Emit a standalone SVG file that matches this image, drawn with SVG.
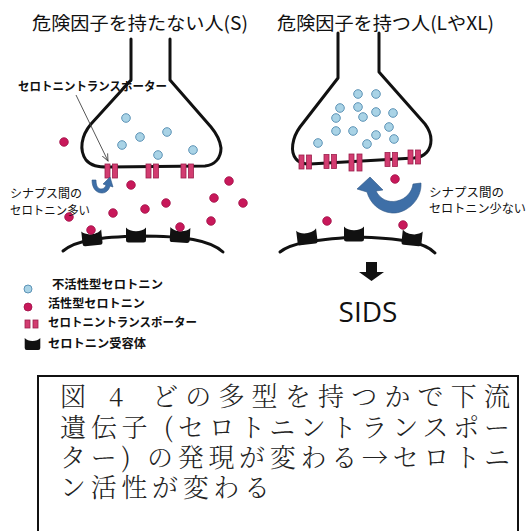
<svg xmlns="http://www.w3.org/2000/svg" width="528" height="531" viewBox="0 0 528 531">
  <style>
    .jp { font-family: "Noto Sans CJK JP", "Noto Sans", sans-serif; fill: #111; }
    .title { font-size: 18.5px; }
    .lbl { font-size: 12px; }
    .bold { font-weight: 700; }
    .mincho { font-family: "Noto Serif CJK JP", "Noto Sans CJK JP", serif; font-size: 26px; fill: #222; font-weight: 300; }
    .cell { fill: none; stroke: #111; stroke-width: 3; stroke-linejoin: round; stroke-linecap: round; }
    .membrane { fill: none; stroke: #111; stroke-width: 3; stroke-linecap: round; }
    .inact { fill: #a9d3e6; stroke: #5d93b6; stroke-width: 1; }
    .act { fill: #c8185a; stroke: #a01048; stroke-width: 0.8; }
    .tp { fill: #d23c70; stroke: #9c1f4c; stroke-width: 0.8; }
    .rec { fill: #111; }
    .flow { fill: #3e6fa7; stroke: #2d5584; stroke-width: 0.6; }
  </style>
  <defs>
    <!-- receptor: cup with a concave top -->
    <path id="receptor" d="M-10,-7.5 C-6,-2.5 6,-2.5 10,-7.5 L10,5 Q10,7.5 7.5,7.5 L-7.5,7.5 Q-10,7.5 -10,5 Z"/>
    <!-- transporter: pair of bars -->
    <g id="tpair">
      <rect class="tp" x="0" y="0" width="5" height="14"/>
      <rect class="tp" x="7.5" y="0" width="5" height="14"/>
    </g>
    <marker id="thinHead" markerWidth="8" markerHeight="8" refX="7" refY="4" orient="auto" markerUnits="userSpaceOnUse">
      <path d="M0,1 L7,4 L0,7" fill="none" stroke="#444" stroke-width="0.9"/>
    </marker>
  </defs>

  <rect width="528" height="531" fill="#ffffff"/>

  <!-- headings -->
  <g id="heading-left">
    <text class="jp title" x="32" y="30" textLength="216" lengthAdjust="spacingAndGlyphs">危険因子を持たない人(S)</text>
  </g>
  <g id="heading-right">
    <text class="jp title" x="277" y="30" textLength="217" lengthAdjust="spacingAndGlyphs">危険因子を持つ人(LやXL)</text>
  </g>

  <!-- left synapse: presynaptic terminal -->
  <g id="pre-left">
    <path class="cell" d="M131,39 L131,80 L91,124 C81,136 79,150 86,160 C91,166 98,167 108,167 L205,166 C215,165 221,158 221,148 C220,139 216,133 211,127 L170,80 L170,39"/>
    <g>
      <circle class="inact" cx="126" cy="118" r="4.3"/>
      <circle class="inact" cx="140" cy="137" r="4.3"/>
      <circle class="inact" cx="167" cy="132" r="4.3"/>
      <circle class="inact" cx="122" cy="145" r="4.3"/>
      <circle class="inact" cx="158" cy="155" r="4.3"/>
      <circle class="inact" cx="193" cy="150" r="4.3"/>
    </g>
    <use href="#tpair" x="105" y="164"/>
    <use href="#tpair" x="146" y="164"/>
    <use href="#tpair" x="181" y="164"/>
  </g>

  <!-- left synapse: cleft serotonin -->
  <g id="cleft-left">
    <circle class="act" cx="64" cy="142" r="4.3"/>
    <circle class="act" cx="131" cy="185" r="4.3"/>
    <circle class="act" cx="229" cy="181" r="4.3"/>
    <circle class="act" cx="214" cy="198" r="4.3"/>
    <circle class="act" cx="243" cy="203" r="4.3"/>
    <circle class="act" cx="166" cy="203" r="4.3"/>
    <circle class="act" cx="145" cy="209" r="4.3"/>
    <circle class="act" cx="113" cy="213" r="4.3"/>
    <circle class="act" cx="69" cy="217" r="4.3"/>
    <circle class="act" cx="211" cy="221" r="4.3"/>
  </g>

  <!-- left synapse: postsynaptic membrane -->
  <g id="post-left">
    <path class="membrane" d="M63,251 C76,240 100,237 140,236 C184,236 210,240 223,252"/>
    <use href="#receptor" class="rec" transform="translate(92,238) rotate(-6)"/>
    <use href="#receptor" class="rec" transform="translate(136,235)"/>
    <use href="#receptor" class="rec" transform="translate(180,235) rotate(3)"/>
    <circle class="act" cx="91" cy="230" r="4.3"/>
    <circle class="act" cx="180" cy="227" r="4.3"/>
  </g>

  <!-- right synapse: presynaptic terminal -->
  <g id="pre-right">
    <path class="cell" d="M338,33 L338,78 L300,127 C292,138 290,152 296,159 C299,163 304,164 310,164 L414,158 C425,157 431,150 431,140 C431,133 428,128 425,124 L379,72 L379,33"/>
    <g>
      <circle class="inact" cx="358" cy="94" r="4.3"/>
      <circle class="inact" cx="376" cy="94" r="4.3"/>
      <circle class="inact" cx="340" cy="108" r="4.3"/>
      <circle class="inact" cx="358" cy="107" r="4.3"/>
      <circle class="inact" cx="376" cy="112" r="4.3"/>
      <circle class="inact" cx="393" cy="113" r="4.3"/>
      <circle class="inact" cx="336" cy="118" r="4.3"/>
      <circle class="inact" cx="363" cy="117" r="4.3"/>
      <circle class="inact" cx="389" cy="127" r="4.3"/>
      <circle class="inact" cx="336" cy="131" r="4.3"/>
      <circle class="inact" cx="353" cy="131" r="4.3"/>
      <circle class="inact" cx="376" cy="135" r="4.3"/>
      <circle class="inact" cx="394" cy="139" r="4.3"/>
      <circle class="inact" cx="318" cy="143" r="4.3"/>
      <circle class="inact" cx="367" cy="144" r="4.3"/>
    </g>
    <use href="#tpair" x="299" y="155"/>
    <use href="#tpair" x="324" y="154.5"/>
    <g transform="translate(349,154)">
      <rect class="tp" x="0" y="0" width="5" height="17"/>
      <rect class="tp" x="8" y="0" width="5" height="17"/>
    </g>
    <use href="#tpair" x="385" y="152.5"/>
    <use href="#tpair" x="408" y="150"/>
  </g>

  <!-- right synapse: cleft serotonin -->
  <g id="cleft-right">
    <circle class="act" cx="395" cy="179" r="4.3"/>
    <circle class="act" cx="327" cy="221" r="4.3"/>
  </g>

  <!-- right synapse: postsynaptic membrane -->
  <g id="post-right">
    <path class="membrane" d="M280,252 C291,243 312,240 355,237 C400,238 425,242 435,253"/>
    <use href="#receptor" class="rec" transform="translate(307,237) rotate(-7)"/>
    <use href="#receptor" class="rec" transform="translate(354,234)"/>
    <use href="#receptor" class="rec" transform="translate(412,238) rotate(6)"/>
    <circle class="act" cx="403" cy="225" r="4.3"/>
  </g>

  <!-- side notes -->
  <g id="note-left">
    <text class="jp lbl" x="10" y="197.5" textLength="72" lengthAdjust="spacingAndGlyphs">シナプス間の</text>
    <text class="jp lbl" x="10" y="214.5" textLength="80" lengthAdjust="spacingAndGlyphs">セロトニン多い</text>
  </g>
  <g id="note-right">
    <text class="jp lbl" x="429" y="196.5" textLength="75" lengthAdjust="spacingAndGlyphs">シナプス間の</text>
    <text class="jp lbl" x="429" y="212.5" textLength="97" lengthAdjust="spacingAndGlyphs">セロトニン少ない</text>
  </g>
  <g id="label-transporter">
    <text class="jp lbl bold" x="18" y="90.5" textLength="149" lengthAdjust="spacingAndGlyphs">セロトニントランスポーター</text>
  </g>

  <!-- outcome -->
  <g id="sids">
    <text x="368" y="322" font-family="'Open Sans', 'Noto Sans', sans-serif" font-size="28" fill="#111" text-anchor="middle">SIDS</text>
  </g>

  <!-- connectors: pointer, reuptake arrows, outcome arrow -->
  <g id="connectors">
    <line x1="76" y1="95" x2="108" y2="161" stroke="#444" stroke-width="0.9" marker-end="url(#thinHead)"/>
    <!-- small reuptake arrow (left) -->
    <path class="flow" d="M92,180 C92,188 96,193 102,193 C106,193 109,190 110,186 L113,187 L110,177 L103,184 L106,185 C105,188 103,189 101,189 C98,189 96,186 96,180 Z"/>
    <!-- large reuptake arrow (right) -->
    <path class="flow" d="M421,183 C422,200 406,214 392,213 C379,212 370,203 367,192 L357,189 L370,177 L383,190 L376,191 C380,199 388,203 397,201 C406,199 412,192 413,184 Z"/>
    <!-- downward block arrow -->
    <polygon points="366,262 377,262 377,272 384,272 371.5,281 359,272 366,272" fill="#111"/>
  </g>

  <!-- legend -->
  <g id="legend">
    <circle class="inact" cx="28" cy="289" r="4"/>
    <text class="jp lbl bold" x="52" y="288.5" textLength="111" lengthAdjust="spacingAndGlyphs">不活性型セロトニン</text>
    <circle class="act" cx="28" cy="307" r="4"/>
    <text class="jp lbl bold" x="48" y="307.5" textLength="97" lengthAdjust="spacingAndGlyphs">活性型セロトニン</text>
    <rect class="tp" x="25" y="320" width="5" height="8"/>
    <rect class="tp" x="33" y="320" width="5" height="8"/>
    <text class="jp lbl bold" x="48" y="326.5" textLength="149" lengthAdjust="spacingAndGlyphs">セロトニントランスポーター</text>
    <use href="#receptor" class="rec" transform="translate(32.5,344) scale(0.78,0.8)"/>
    <text class="jp lbl bold" x="48" y="347.5" textLength="98" lengthAdjust="spacingAndGlyphs">セロトニン受容体</text>
  </g>

  <!-- caption box -->
  <g id="caption">
    <rect x="38" y="376" width="480" height="200" fill="none" stroke="#111" stroke-width="2"/>
    <text class="mincho" x="60" y="406">図</text>
    <text class="mincho" x="109" y="406">4</text>
    <text class="mincho" x="152" y="406" textLength="358" lengthAdjust="spacing">どの多型を持つかで下流</text>
    <text class="mincho" x="60" y="437" textLength="450" lengthAdjust="spacing">遺伝子 (セロトニントランスポー</text>
    <text class="mincho" x="60" y="467" textLength="450" lengthAdjust="spacing">ター) の発現が変わる→セロトニ</text>
    <text class="mincho" x="60" y="497" textLength="210" lengthAdjust="spacing">ン活性が変わる</text>
  </g>
</svg>
